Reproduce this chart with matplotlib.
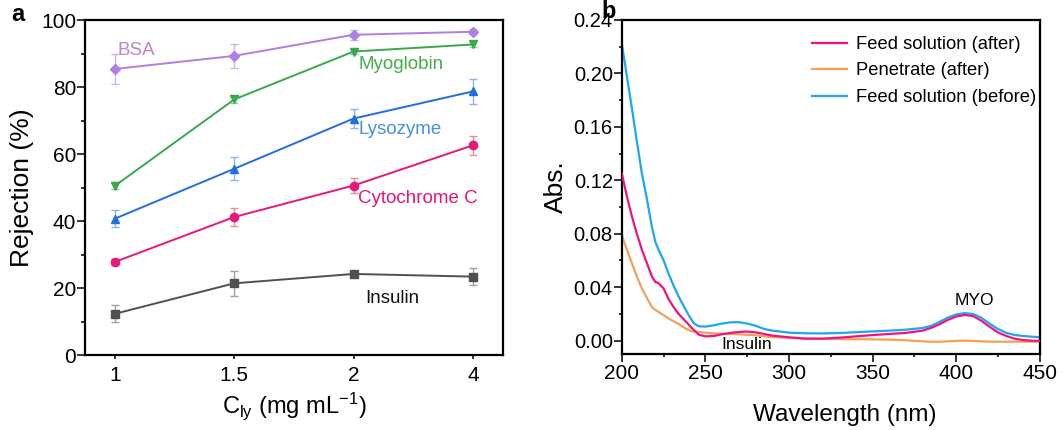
import matplotlib
matplotlib.use("Agg")
import matplotlib.pyplot as plt
from matplotlib.ticker import MultipleLocator, FormatStrFormatter

plt.rcParams['font.family'] = ['Liberation Sans', 'DejaVu Sans']
plt.rcParams['mathtext.default'] = 'regular'

# ---- Panel a: rejection vs lysozyme concentration ----
conc_labels = ['1', '1.5', '2', '4']

bsa = [85.4, 89.3, 95.6, 96.5]
bsa_err = [4.5, 3.6, 1.5, 0.8]
myoglobin = [50.5, 76.3, 90.6, 92.7]
myoglobin_err = [1.0, 1.1, 0.8, 0.6]
lysozyme = [40.7, 55.6, 70.6, 78.7]
lysozyme_err = [2.6, 3.5, 2.8, 3.7]
cytochrome = [27.8, 41.2, 50.6, 62.6]
cytochrome_err = [1.0, 2.6, 2.1, 2.8]
insulin = [12.3, 21.4, 24.2, 23.4]
insulin_err = [2.5, 3.7, 1.0, 2.5]

# ---- Panel b: UV-vis spectra ----
wavelength = [200, 203, 206, 209, 212, 215, 218, 220, 222, 225, 228, 231, 234,
              237, 240, 243, 246, 250, 255, 260, 265, 270, 275, 280, 285, 290,
              300, 310, 320, 330, 340, 350, 360, 370, 380, 385, 390, 395, 400,
              405, 410, 415, 420, 425, 430, 435, 440, 445, 450]
feed_before = [0.222, 0.198, 0.174, 0.149, 0.125, 0.106, 0.085, 0.074, 0.068,
               0.060, 0.050, 0.041, 0.033, 0.026, 0.019, 0.013, 0.0108, 0.0105,
               0.0115, 0.0128, 0.0137, 0.0138, 0.0128, 0.0112, 0.0088, 0.0075,
               0.0060, 0.0055, 0.0054, 0.0057, 0.0063, 0.0069, 0.0075, 0.0082,
               0.0095, 0.0110, 0.0140, 0.0172, 0.0196, 0.0206, 0.0200, 0.0172,
               0.0128, 0.0088, 0.0058, 0.0043, 0.0035, 0.0030, 0.0025]
feed_after = [0.125, 0.108, 0.093, 0.080, 0.068, 0.058, 0.048, 0.044, 0.043,
              0.039, 0.031, 0.025, 0.020, 0.016, 0.012, 0.0080, 0.0045, 0.0032,
              0.0035, 0.0048, 0.0058, 0.0065, 0.0068, 0.0062, 0.0050, 0.0038,
              0.0025, 0.0015, 0.0015, 0.0022, 0.0032, 0.0042, 0.0050, 0.0058,
              0.0075, 0.0095, 0.0122, 0.0155, 0.0180, 0.0192, 0.0185, 0.0150,
              0.0105, 0.0062, 0.0035, 0.0015, 0.0005, 0.0000, -0.0002]
penetrate = [0.079, 0.068, 0.058, 0.048, 0.039, 0.032, 0.025, 0.023, 0.0215,
             0.019, 0.0165, 0.0145, 0.0125, 0.0100, 0.0078, 0.0068, 0.0065,
             0.0060, 0.0055, 0.0052, 0.0050, 0.0048, 0.0044, 0.0040, 0.0033,
             0.0027, 0.0020, 0.0016, 0.0013, 0.0012, 0.0011, 0.0010, 0.0008,
             0.0003, -0.0005, -0.0008, -0.0008, -0.0005, -0.0002, 0.0000,
             -0.0002, -0.0005, -0.0007, -0.0008, -0.0008, -0.0007, -0.0008,
             -0.0008, -0.0008]

fig = plt.figure(figsize=(10.63, 4.30), dpi=100)
ax1 = fig.add_axes([0.080, 0.1744, 0.393, 0.779])
ax2 = fig.add_axes([0.585, 0.1767, 0.393, 0.777])

# closed black frame around each panel
for ax in (ax1, ax2):
    for side in ('left', 'bottom', 'top', 'right'):
        sp = ax.spines[side]
        sp.set_visible(True)
        sp.set_edgecolor('black')
        sp.set_linewidth(1.6)

# panel a series
xpos = list(range(len(conc_labels)))
series = [
    (bsa, bsa_err, 'D', '#b07ee4', '#d2aef0', 5.0),
    (myoglobin, myoglobin_err, 'v', '#3aa84c', '#8fd09a', 6.0),
    (lysozyme, lysozyme_err, '^', '#1f6fe3', '#8ab4f0', 6.0),
    (cytochrome, cytochrome_err, 'o', '#e8177c', '#f28a8a', 6.0),
    (insulin, insulin_err, 's', '#505050', '#a0a0a0', 5.5),
]
for vals, errs, mk, col, ecol, ms in series:
    ax1.errorbar(xpos, vals, yerr=errs, color=col, marker=mk, markersize=ms,
                 linewidth=1.4, ecolor=ecol, elinewidth=1.0, capsize=3,
                 capthick=1.0, zorder=3)

ax1.set_xlim(-0.25, 3.25)
ax1.set_ylim(0, 100)
ax1.set_xticks(xpos)
ax1.set_xticklabels(conc_labels)
ax1.yaxis.set_major_locator(MultipleLocator(20))
ax1.yaxis.set_minor_locator(MultipleLocator(10))
ax1.tick_params(top=False, right=False, which='both')
ax1.tick_params(axis='y', which='major', direction='out', length=5.5,
                width=1.1, labelsize=15, pad=1)
ax1.tick_params(axis='y', which='minor', direction='out', length=3, width=1.1)
ax1.tick_params(axis='x', which='major', direction='out', length=3,
                width=1.1, labelsize=15, pad=5)
ax1.set_ylabel('Rejection (%)', fontsize=19, labelpad=5)
ax1.set_xlabel(r'C$_{\mathregular{ly}}$ (mg mL$^{\mathregular{-1}}$)',
               fontsize=17, labelpad=4)

ax1.text(0.025, 91.0, 'BSA', color='#c283c8', fontsize=13.5, va='center', ha='left')
ax1.text(2.04, 86.6, 'Myoglobin', color='#46ad4a', fontsize=13.5, va='center', ha='left')
ax1.text(2.04, 67.2, 'Lysozyme', color='#4a8fdc', fontsize=13.5, va='center', ha='left')
ax1.text(2.04, 46.6, 'Cytochrome C', color='#e8147a', fontsize=13.5, va='center', ha='left')
ax1.text(2.10, 17.0, 'Insulin', color='#111111', fontsize=13.5, va='center', ha='left')

# panel b spectra
ax2.plot(wavelength, feed_after, color='#f0127e', linewidth=1.6,
         label='Feed solution (after)', zorder=3)
ax2.plot(wavelength, penetrate, color='#f5a05a', linewidth=1.6,
         label='Penetrate (after)', zorder=2)
ax2.plot(wavelength, feed_before, color='#1ea6f5', linewidth=1.6,
         label='Feed solution (before)', zorder=2)

ax2.set_xlim(200, 450)
ax2.set_ylim(-0.01, 0.24)
ax2.xaxis.set_major_locator(MultipleLocator(50))
ax2.xaxis.set_minor_locator(MultipleLocator(25))
ax2.yaxis.set_major_locator(MultipleLocator(0.04))
ax2.yaxis.set_minor_locator(MultipleLocator(0.02))
ax2.yaxis.set_major_formatter(FormatStrFormatter('%.2f'))
ax2.tick_params(top=False, right=False, which='both')
ax2.tick_params(which='major', direction='out', length=5.5, width=1.1,
                labelsize=14.5, pad=1)
ax2.tick_params(which='minor', direction='out', length=2.5, width=1.1)
ax2.tick_params(axis='x', labelsize=15, pad=2)
ax2.set_ylabel('Abs.', fontsize=19, labelpad=4)
ax2.set_xlabel('Wavelength (nm)', fontsize=17.5, labelpad=4)
ax2.xaxis.set_label_coords(0.533, -0.15)

ax2.text(411, 0.030, 'MYO', fontsize=12.5, ha='center', va='center')
ax2.text(274.8, -0.0032, 'Insulin', fontsize=12.5, ha='center', va='center')

ax2.legend(loc='upper left', bbox_to_anchor=(0.4545, 0.952), frameon=False,
           fontsize=13.2, handlelength=1.95, handletextpad=0.45,
           labelspacing=0.52, borderpad=0, borderaxespad=0)

fig.text(0.017, 0.952, 'a', fontsize=17, fontweight='bold', ha='center', va='baseline')
fig.text(0.5725, 0.957, 'b', fontsize=17, fontweight='bold', ha='center', va='baseline')

fig.savefig('out.png', dpi=100)
